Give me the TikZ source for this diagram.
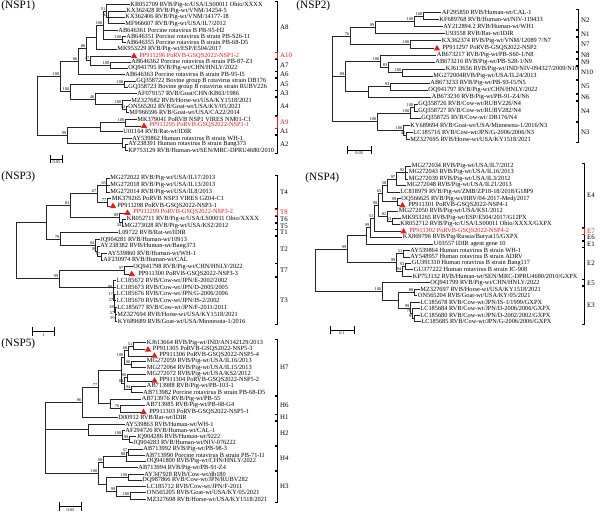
\documentclass[tikz,border=0pt]{standalone}
\usepackage{fontspec}
\setmainfont{Liberation Serif}
\usetikzlibrary{shapes.geometric}
\definecolor{pred}{RGB}{228,28,30}
\begin{document}
\begin{tikzpicture}[x=0.025cm, y=-0.025cm, line width=0.55pt,
    leaf/.style={anchor=west, inner sep=0.4pt, font=\fontsize{4.5}{5}\selectfont},
    newleaf/.style={leaf, text=pred},
    tri/.style={regular polygon, regular polygon sides=3, fill=pred, inner sep=0pt, minimum size=5.2pt, yshift=-0.5pt},
    br/.style={draw=black!85, to path={|- (\tikztotarget)}},
    bs/.style={font=\fontsize{3.1}{3.5}\selectfont, inner sep=0.3pt},
    gt/.style={anchor=west, inner sep=0.5pt, font=\fontsize{4.9}{5}\selectfont},
    panel/.style={anchor=west, inner sep=0pt, font=\fontsize{8}{9}\selectfont}]
  \useasboundingbox (0,0) rectangle (600,514);

  \node[panel] (p1) at (1,6) {(NSP1)};
  \node[leaf] (a1) at (129.5,4.7) {KR052709 RVB/Pig-tc/USA/LS00011 Ohio/XXXX};
  \node[leaf] (a2) at (125.5,11.1) {KX362428 RVB/Pig-wt/VNM/14254-5};
  \node[leaf] (a3) at (124.5,17.4) {KX362406 RVB/Pig-wt/VNM/14177-18};
  \node[leaf] (a4) at (124.5,23.8) {MF966607 RVB/Pig-wt/USA/IL7/2012};
  \node[leaf] (a5) at (117.5,30.1) {AB646361 Porcine rotavirus B PB-95-H2};
  \node[leaf] (a6) at (125.5,36.5) {AB646351 Porcine rotavirus B strain PB-S26-11};
  \node[leaf] (a7) at (125.5,42.8) {AB646355 Porcine rotavirus B strain PB-68-D5};
  \node[leaf] (a8) at (116.5,49.2) {MK953229 RVB/Pig-wt/ESP/E504/2017};
  \node[tri] (a9) at (134,55.5) {};
  \node[newleaf] (a9l) at (138.5,55.5) {PP911296 PoRVB-GSQS2022-NSP1-2};
  \node[leaf] (a10) at (130.5,61.9) {AB646362 Porcine rotavirus B strain PB-87-Z3};
  \node[leaf] (a11) at (127.5,68.2) {OQ941795 RVB/Pig-wt/CHN/HNLY/2022};
  \node[leaf] (a12) at (124.5,74.6) {AB646363 Porcine rotavirus B strain PB-95-I5};
  \node[leaf] (a13) at (135.5,80.9) {GQ358722 Bovine group B rotavirus strain DB176};
  \node[leaf] (a14) at (127.5,87.3) {GQ358723 Bovine group B rotavirus strain RUBV226};
  \node[leaf] (a15) at (136.5,93.6) {AF079157 RVB/Goat/CHN/KB63/1986};
  \node[leaf] (a16) at (130.5,100) {MZ327682 RVB/Horse-wt/USA/KY1518/2021};
  \node[leaf] (a17) at (127.5,106.3) {ON565202 RVB/Goat-wt/USA/KY/05/2021};
  \node[leaf] (a18) at (128.5,112.7) {MF966596 RVB/Goat-wt/USA/CA22/2014};
  \node[leaf] (a19) at (136.5,119) {MK379041 PoRVB NSP1 VIRES NM01-C1};
  \node[tri] (a20) at (144,125.4) {};
  \node[newleaf] (a20l) at (148.5,125.4) {PP911295 PoRVB-GSQS2022-NSP1-1};
  \node[leaf] (a21) at (122.5,131.7) {U01164 RVB/Rat-wt/IDIR};
  \node[leaf] (a22) at (131.5,138.1) {AY539862 Human rotavirus B strain WH-1};
  \node[leaf] (a23) at (127.5,144.4) {AY238391 Human rotavirus B strain Bang373};
  \node[leaf] (a24) at (127.5,150.8) {KP753129 RVB/Human-wt/SEN/MRC-DPRU4680/2010};
  \coordinate[label={[bs]above left:94}] (a-k2) at (108,17.4);
  \coordinate[label={[bs]above left:51}] (a-k1) at (106,11.1);
  \coordinate[label={[bs]above left:100}] (a-j1) at (122,39.7);
  \coordinate[label={[bs]above left:100}] (a-h1) at (103,25.4);
  \coordinate (a-e1) at (96,37.3);
  \coordinate[label={[bs]above left:100}] (a-g1) at (110,65.1);
  \coordinate[label={[bs]above left:47}] (a-f1) at (90,60.3);
  \coordinate[label={[bs]above left:88}] (a-d1) at (86,48.8);
  \coordinate[label={[bs]above left:86}] (a-b1) at (78,61.7);
  \coordinate[label={[bs]above left:100}] (a-l1) at (124,84.1);
  \coordinate[label={[bs]above left:92}] (a-n1) at (126,109.5);
  \coordinate[label={[bs]above left:100}] (a-m2) at (122,104.8);
  \coordinate[label={[bs]above left:46}] (a-m1) at (95,99.2);
  \coordinate[label={[bs]above left:100}] (a-c1) at (70,91.7);
  \coordinate[label={[bs]above left:100}] (a-a1) at (60,76.7);
  \coordinate[label={[bs]above left:100}] (a-o1) at (125,122.2);
  \coordinate (a-p1) at (100,127);
  \coordinate (a-r2) at (125,147.6);
  \coordinate (a-s2) at (122,142.9);
  \coordinate[label={[bs]above left:99}] (a-t1) at (67,135);
  \coordinate (a-r) at (37,105.9);
  \path (a-k2) edge[br] (a2) edge[br] (a3) edge[br] (a4);
  \path (a-k1) edge[br] (a1) edge[br] (a-k2);
  \path (a-j1) edge[br] (a6) edge[br] (a7);
  \path (a-h1) edge[br] (a-k1) edge[br] (a5) edge[br] (a-j1);
  \path (a-e1) edge[br] (a-h1) edge[br] (a8);
  \path (a-g1) edge[br] (a10) edge[br] (a11);
  \path (a-f1) edge[br] (a9) edge[br] (a-g1);
  \path (a-d1) edge[br] (a-e1) edge[br] (a-f1);
  \path (a-b1) edge[br] (a-d1) edge[br] (a12);
  \path (a-l1) edge[br] (a13) edge[br] (a14);
  \path (a-n1) edge[br] (a17) edge[br] (a18);
  \path (a-m2) edge[br] (a16) edge[br] (a-n1);
  \path (a-m1) edge[br] (a15) edge[br] (a-m2);
  \path (a-c1) edge[br] (a-l1) edge[br] (a-m1);
  \path (a-a1) edge[br] (a-b1) edge[br] (a-c1);
  \path (a-o1) edge[br] (a19) edge[br] (a20);
  \path (a-p1) edge[br] (a-o1) edge[br] (a21);
  \path (a-r2) edge[br] (a23) edge[br] (a24);
  \path (a-s2) edge[br] (a22) edge[br] (a-r2);
  \path (a-t1) edge[br] (a-p1) edge[br] (a-s2);
  \path (a-r) edge[br] (a-a1) edge[br] (a-t1);
  \foreach \ya/\yb/\g in {4.7/49.2/A8, 61.9/68.2/A7, 74.6/74.6/A6, 80.9/87.3/A5, 93.6/93.6/A3, 100/112.7/A4, 131.7/131.7/A1, 138.1/150.8/A2}{
    \draw (275,\ya-3) -- (277,\ya-3) -- (277,\yb+3) -- (275,\yb+3);
    \node[gt] (g\g) at (279,{(\ya+\yb)/2}) {\g};
  }
  \draw[pred] (275,52.5) -- (277,52.5) -- (277,58.5) -- (275,58.5);
  \node[gt, text=pred] (gA10) at (279,55.5) {A10};
  \draw[pred] (275,116) -- (277,116) -- (277,128.4) -- (275,128.4);
  \node[gt, text=pred] (gA9) at (279,122.2) {A9};
  \draw[|-|] (50,159) -- node[bs, below=0.6pt] (s1) {0.05} (63,159);

  \node[panel] (p2) at (296,6) {(NSP2)};
  \node[leaf] (b1) at (441,12.7) {AF295850 RVB/Human-wt/CAL-1};
  \node[leaf] (b2) at (438.5,19.7) {KF689768 RVB/Human-wt/NIV-119433};
  \node[leaf] (b3) at (442.5,26.8) {AY212894.2 RVB/Human-wt/WH1};
  \node[leaf] (b4) at (444.5,33.8) {U93558 RVB/Rat-wt/IDIR};
  \node[leaf] (b5) at (441,40.8) {KX362374 RVB/Pig-wt/VNM/12089 7/N7};
  \node[tri] (b6) at (437,47.9) {};
  \node[leaf] (b6l) at (441.5,47.9) {PP911297 PoRVB-GSQS2022-NSP2};
  \node[leaf] (b7) at (436,54.9) {AB673217 RVB/Pig-wt/PB-S60-1/N8};
  \node[leaf] (b8) at (434.5,61.9) {AB673216 RVB/Pig-wt/PB-S28-1/N9};
  \node[leaf] (b9) at (445,68.9) {KJ613656 RVB/Pig-wt/IND/NIV-094327/2009/N10};
  \node[leaf] (b10) at (432.5,76) {MG272004RVB/Pig-wt/USA/IL24/2013};
  \node[leaf] (b11) at (429.5,83) {AB673233 RVB/Pig-wt/PB-93-I5/N5};
  \node[leaf] (b12) at (427.5,90) {OQ941797 RVB/Pig-wt/CHN/HNLY/2022};
  \node[leaf] (b13) at (431,97.1) {AB673230 RVB/Pig-wt/PB-91-Z4/N6};
  \node[leaf] (b14) at (417.5,104.1) {GQ358726 RVB/Cow-wt/RUBV226/N4};
  \node[leaf] (b15) at (417.5,111.1) {GQ358727 RVB/Cow-wt/RUBV282/N4};
  \node[leaf] (b16) at (420.5,118.2) {GQ358725 RVB/Cow-wt/ DB176/N4};
  \node[leaf] (b17) at (409.5,125.2) {KY689694 RVB/Goat-wt/USA/Minnesota-1/2016/N3};
  \node[leaf] (b18) at (412.5,132.2) {LC185716 RVB/Cow-wt/JPN/G-2006/2006/N3};
  \node[leaf] (b19) at (409.5,139.2) {MZ327695 RVB/Horse-wt/USA/KY1518/2021};
  \coordinate[label={[bs]above left:100}] (b-a1) at (423,16.2);
  \coordinate[label={[bs]above left:100}] (b-a2) at (414,21.5);
  \coordinate[label={[bs]above left:99}] (b-a3) at (375,27.7);
  \coordinate[label={[bs]above left:100}] (b-a5) at (410,44.4);
  \coordinate[label={[bs]above left:76}] (b-a4) at (350,36);
  \coordinate[label={[bs]above left:100}] (b-b3) at (402,72.5);
  \coordinate[label={[bs]above left:83}] (b-b2) at (388,67.2);
  \coordinate[label={[bs]above left:100}] (b-b1) at (380,61);
  \coordinate[label={[bs]above left:93}] (b-b4) at (390,86.5);
  \coordinate (b-b5) at (368,91.8);
  \coordinate[label={[bs]above left:89}] (b-b6) at (345,76.4);
  \coordinate[label={[bs]above left:100}] (b-c1) at (414,107.6);
  \coordinate[label={[bs]above left:100}] (b-c2) at (410,112.9);
  \coordinate[label={[bs]above left:46}] (b-c5) at (406,135.7);
  \coordinate[label={[bs]above left:100}] (b-c4) at (403,130.5);
  \coordinate[label={[bs]above left:100}] (b-c3) at (377,121.7);
  \coordinate (b-r) at (332,78.9);
  \path (b-a1) edge[br] (b1) edge[br] (b2);
  \path (b-a2) edge[br] (b-a1) edge[br] (b3);
  \path (b-a3) edge[br] (b-a2) edge[br] (b4);
  \path (b-a5) edge[br] (b5) edge[br] (b6);
  \path (b-a4) edge[br] (b-a3) edge[br] (b-a5);
  \path (b-b3) edge[br] (b9) edge[br] (b10);
  \path (b-b2) edge[br] (b8) edge[br] (b-b3);
  \path (b-b1) edge[br] (b7) edge[br] (b-b2);
  \path (b-b4) edge[br] (b11) edge[br] (b12);
  \path (b-b5) edge[br] (b-b4) edge[br] (b13);
  \path (b-b6) edge[br] (b-b1) edge[br] (b-b5);
  \path (b-c1) edge[br] (b14) edge[br] (b15);
  \path (b-c2) edge[br] (b-c1) edge[br] (b16);
  \path (b-c5) edge[br] (b18) edge[br] (b19);
  \path (b-c4) edge[br] (b17) edge[br] (b-c5);
  \path (b-c3) edge[br] (b-c2) edge[br] (b-c4);
  \path (b-r) edge[br] (b-a4) edge[br] (b-b6) edge[br] (b-c3);
  \foreach \ya/\yb/\g in {12.7/26.8/N2, 33.8/33.8/N1, 40.8/47.9/N7, 54.9/54.9/N8, 61.9/61.9/N9, 68.9/76/N10, 83/90/N5, 97.1/97.1/N6, 104.1/118.2/N4, 125.2/139.2/N3}{
    \draw (576,\ya-3) -- (578,\ya-3) -- (578,\yb+3) -- (576,\yb+3);
    \node[gt] (g\g) at (580,{(\ya+\yb)/2}) {\g};
  }
  \draw[|-|] (346.7,150) -- node[bs, below=0.6pt] (s2) {0.05} (371.7,150);

  \node[panel] (p3) at (1,177) {(NSP3)};
  \node[leaf] (c1) at (109.5,178.3) {MG272022 RVB/Pig-wt/USA/IL17/2013};
  \node[leaf] (c2) at (109.5,185.1) {MG272018 RVB/Pig-wt/USA/IL13/2013};
  \node[leaf] (c3) at (109.5,191.9) {MG272014 RVB/Pig-wt/USA/IL8/2013};
  \node[leaf] (c4) at (111,198.7) {MK379265 PoRVB NSP3 VIRES GZ04-C1};
  \node[tri] (c5) at (113,205.5) {};
  \node[leaf] (c5l) at (116.5,205.5) {PP911298 PoRVB-GSQS2022-NSP3-1};
  \node[tri] (c6) at (127.5,212.3) {};
  \node[newleaf] (c6l) at (132.5,212.3) {PP911299 PoRVB-GSQS2022-NSP3-2};
  \node[leaf] (c7) at (126,219.1) {KR052711 RVB/Pig-tc/USA/LS00011 Ohio/XXXX};
  \node[leaf] (c8) at (123.5,225.9) {MG273028 RVB/Pig-wt/USA/KS2/2012};
  \node[leaf] (c9) at (117.5,232.7) {L09722 RVB/Rat-wt/IDIR};
  \node[leaf] (c10) at (99.5,239.5) {JQ904281 RVB/Human-wt/10913};
  \node[leaf] (c11) at (99.5,246.3) {AY238382 RVB/Human-wt/Bang373};
  \node[leaf] (c12) at (107,253.1) {AY539860 RVB/Human-wt/WH-1};
  \node[leaf] (c13) at (102.5,259.9) {AF230974 RVB/Human-wt/CAL};
  \node[leaf] (c14) at (132.5,266.7) {OQ941798 RVB/Pig-wt/CHN/HNLY/2022};
  \node[tri] (c15) at (131.7,273.5) {};
  \node[leaf] (c15l) at (137.5,273.5) {PP911300 PoRVB-GSQS2022-NSP3-3};
  \node[leaf] (c16) at (116,280.3) {LC185672 RVB/Cow-wt/JPN/E-2002/2002};
  \node[leaf] (c17) at (116,287.1) {LC185673 RVB/Cow-wt/JPN/D-2005/2005};
  \node[leaf] (c18) at (116,293.9) {LC185676 RVB/Cow-wt/JPN/G-2006/2006};
  \node[leaf] (c19) at (116,300.7) {LC185670 RVB/Cow-wt/JPN/IS-2/2002};
  \node[leaf] (c20) at (116.5,307.5) {LC185677 RVB/Cow-wt/JPN/F-2011/2011};
  \node[leaf] (c21) at (116.5,314.3) {MZ327694 RVB/Horse-wt/USA/KY1518/2021};
  \node[leaf] (c22) at (117,321.1) {KY689689 RVB/Goat-wt/USA/Minnesota-1/2016};
  \coordinate[label={[bs]above left:65}] (c-a) at (106.7,185.1);
  \coordinate[label={[bs]above left:77}] (c-c) at (107,202.1);
  \coordinate[label={[bs]above left:67}] (c-b) at (97,193.6);
  \coordinate[label={[bs]below left:34}] (c-e2) at (122,222.5);
  \coordinate[label={[bs]above left:89}] (c-e) at (119,217.4);
  \coordinate[label={[bs]above left:81}] (c-d) at (70,205.5);
  \coordinate[label={[bs]above left:97}] (c-h1) at (101,256.5);
  \coordinate[label={[bs]above left:98}] (c-h2) at (97,251.4);
  \coordinate[label={[bs]above left:94}] (c-h3) at (95,245.5);
  \coordinate[label={[bs]above left:79}] (c-g) at (60,239.1);
  \coordinate (c-f) at (46.7,222.3);
  \coordinate[label={[bs]above left:97}] (c-u) at (124,270.1);
  \coordinate[label={[bs]left:95}] (c-v6) at (115.5,317.7);
  \coordinate[label={[bs]left:57}] (c-v5) at (115,312.6);
  \coordinate[label={[bs]left:38}] (c-v4) at (114.5,306.7);
  \coordinate[label={[bs]left:27}] (c-v3) at (114,300.3);
  \coordinate[label={[bs]left:17}] (c-v2) at (113.5,293.7);
  \coordinate[label={[bs]left:98}] (c-v1) at (113,287);
  \coordinate[label={[bs]above left:99}] (c-t) at (59,278.6);
  \coordinate (c-r) at (16.7,250.5);
  \path (c-a) edge[br] (c1) edge[br] (c2) edge[br] (c3);
  \path (c-c) edge[br] (c4) edge[br] (c5);
  \path (c-b) edge[br] (c-a) edge[br] (c-c);
  \path (c-e2) edge[br] (c7) edge[br] (c8);
  \path (c-e) edge[br] (c6) edge[br] (c-e2);
  \path (c-d) edge[br] (c-b) edge[br] (c-e);
  \path (c-h1) edge[br] (c12) edge[br] (c13);
  \path (c-h2) edge[br] (c11) edge[br] (c-h1);
  \path (c-h3) edge[br] (c10) edge[br] (c-h2);
  \path (c-g) edge[br] (c9) edge[br] (c-h3);
  \path (c-f) edge[br] (c-d) edge[br] (c-g);
  \path (c-u) edge[br] (c14) edge[br] (c15);
  \path (c-v6) edge[br] (c21) edge[br] (c22);
  \path (c-v5) edge[br] (c20) edge[br] (c-v6);
  \path (c-v4) edge[br] (c19) edge[br] (c-v5);
  \path (c-v3) edge[br] (c18) edge[br] (c-v4);
  \path (c-v2) edge[br] (c17) edge[br] (c-v3);
  \path (c-v1) edge[br] (c16) edge[br] (c-v2);
  \path (c-t) edge[br] (c-u) edge[br] (c-v1);
  \path (c-r) edge[br] (c-f) edge[br] (c-t);
  \foreach \ya/\yb/\g in {178.3/205.5/T4, 219.1/219.1/T6, 225.9/225.9/T5, 232.7/232.7/T1, 239.5/259.9/T2, 266.7/273.5/T7, 280.3/321.1/T3}{
    \draw (275,\ya-3) -- (277,\ya-3) -- (277,\yb+3) -- (275,\yb+3);
    \node[gt] (g\g) at (279,{(\ya+\yb)/2}) {\g};
  }
  \draw[pred] (275,209.3) -- (277,209.3) -- (277,215.3) -- (275,215.3);
  \node[gt, text=pred] (gT8) at (279,212.3) {T8};
  \draw[|-|] (31.7,331.7) -- node[bs, below=0.6pt] (s3) {1} (55,331.7);

  \node[panel] (p4) at (305,178) {(NSP4)};
  \node[leaf] (d1) at (411,166) {MG272034 RVB/Pig-wt/USA/IL7/2012};
  \node[leaf] (d2) at (408,172.5) {MG272043 RVB/Pig-wt/USA/IL16/2013};
  \node[leaf] (d3) at (408,179) {MG272039 RVB/Pig-wt/USA/IL3/2012};
  \node[leaf] (d4) at (406,185.5) {MG272048 RVB/Pig-wt/USA/IL21/2013};
  \node[leaf] (d5) at (399.5,192) {LC818979 RVB/Pig-wt/ZMB/ZP18-18/2018/G18P9};
  \node[leaf] (d6) at (400.5,198.5) {OQ566625 RVB/Pig-wt/HRV/04-2017-Medj/2017};
  \node[tri] (d7) at (402.5,204.9) {};
  \node[leaf] (d7l) at (407.5,204.9) {PP911301 PoRVB-GSQS2022-NSP4-1};
  \node[leaf] (d8) at (398,211.4) {MG272050 RVB/Pig-wt/USA/KS1/2012};
  \node[leaf] (d9) at (401,217.9) {MK953265 RVB/Pig-wt/ESP/E504/2017/G12PX};
  \node[leaf] (d10) at (399.5,224.4) {KR052712 RVB/Pig-tc/USA/LS00011 Ohio/XXXX/GXPX};
  \node[tri] (d11) at (403.5,230.9) {};
  \node[newleaf] (d11l) at (408.5,230.9) {PP911302 PoRVB-GSQS2022-NSP4-2};
  \node[leaf] (d12) at (402,237.4) {KX869796 RVB/Pig/Russia/Buryat15/GXPX};
  \node[leaf] (d13) at (433,243.9) {U03557 IDIR agent gene 10};
  \node[leaf] (d14) at (409.5,250.4) {AY539864 Human rotavirus B strain WH-1};
  \node[leaf] (d15) at (409.5,256.9) {AY548957 Human rotavirus B strain ADRV};
  \node[leaf] (d16) at (411,263.4) {GU391310 Human rotavirus B strain Bang117};
  \node[leaf] (d17) at (413,269.8) {GU377222 Human rotavirus B strain IC-908};
  \node[leaf] (d18) at (412,276.3) {KP753132 RVB/Human-wt/SEN/MRC-DPRU4680/2010/GXPX};
  \node[leaf] (d19) at (429.5,282.8) {OQ941799 RVB/Pig-wt/CHN/HNLY/2022};
  \node[leaf] (d20) at (419.5,289.3) {MZ327697 RVB/Horse-wt/USA/KY1518/2021};
  \node[leaf] (d21) at (417,295.8) {ON565204 RVB/Goat-wt/USA/KY/05/2021};
  \node[leaf] (d22) at (419.5,302.3) {LC185678 RVB/Cow-wt/JPN/IS-1/1999/GXPX};
  \node[leaf] (d23) at (419.5,308.8) {LC185684 RVB/Cow-wt/JPN/D-2006/2006/GXPX};
  \node[leaf] (d24) at (419.5,315.3) {LC185680 RVB/Cow-wt/JPN/D-2002/2002/GXPX};
  \node[leaf] (d25) at (420.5,321.8) {LC185685 RVB/Cow-wt/JPN/G-2006/2006/GXPX};
  \coordinate[label={[bs]above left:92}] (d-n1) at (405,172.5);
  \coordinate[label={[bs]above left:97}] (d-n2) at (396,179);
  \coordinate[label={[bs]above left:58}] (d-n3) at (387,185.5);
  \coordinate[label={[bs]above left:99}] (d-n5) at (397,201.7);
  \coordinate[label={[bs]above left:65}] (d-n6) at (382,193.6);
  \coordinate[label={[bs]above left:63}] (d-n9) at (392,221.2);
  \coordinate[label={[bs]above left:82}] (d-n8) at (387,216.3);
  \coordinate[label={[bs]above left:98}] (d-n10) at (378,205);
  \coordinate[label={[bs]above left:51}] (d-n11) at (374,218);
  \coordinate[label={[bs]above left:99}] (d-n12) at (370,227.7);
  \coordinate (d-p1) at (366.7,235.8);
  \coordinate[label={[bs]above left:51}] (d-h1) at (403,253.7);
  \coordinate[label={[bs]above left:93}] (d-h3) at (405,266.6);
  \coordinate[label={[bs]above left:94}] (d-h5) at (402,271.5);
  \coordinate[label={[bs]above left:99}] (d-g1) at (396,262.6);
  \coordinate[label={[bs]above left:99}] (d-p2) at (347,249.2);
  \coordinate[label={[bs]above left:88}] (d-q3) at (414,292.6);
  \coordinate[label={[bs]above left:95}] (d-q6) at (414,318.6);
  \coordinate[label={[bs]above left:70}] (d-q5) at (412,313.7);
  \coordinate[label={[bs]above left:99}] (d-q4) at (410,308);
  \coordinate (d-q2) at (398,300.3);
  \coordinate[label={[bs]above left:100}] (d-q) at (382,291.6);
  \coordinate (d-r) at (315,270.4);
  \path (d-n1) edge[br] (d1) edge[br] (d2) edge[br] (d3);
  \path (d-n2) edge[br] (d-n1) edge[br] (d4);
  \path (d-n3) edge[br] (d-n2) edge[br] (d5);
  \path (d-n5) edge[br] (d6) edge[br] (d7);
  \path (d-n6) edge[br] (d-n3) edge[br] (d-n5);
  \path (d-n9) edge[br] (d9) edge[br] (d10);
  \path (d-n8) edge[br] (d8) edge[br] (d-n9);
  \path (d-n10) edge[br] (d-n6) edge[br] (d-n8);
  \path (d-n11) edge[br] (d-n10) edge[br] (d11);
  \path (d-n12) edge[br] (d-n11) edge[br] (d12);
  \path (d-p1) edge[br] (d-n12) edge[br] (d13);
  \path (d-h1) edge[br] (d14) edge[br] (d15);
  \path (d-h3) edge[br] (d16) edge[br] (d17);
  \path (d-h5) edge[br] (d-h3) edge[br] (d18);
  \path (d-g1) edge[br] (d-h1) edge[br] (d-h5);
  \path (d-p2) edge[br] (d-p1) edge[br] (d-g1);
  \path (d-q3) edge[br] (d20) edge[br] (d21);
  \path (d-q6) edge[br] (d24) edge[br] (d25);
  \path (d-q5) edge[br] (d23) edge[br] (d-q6);
  \path (d-q4) edge[br] (d22) edge[br] (d-q5);
  \path (d-q2) edge[br] (d-q3) edge[br] (d-q4);
  \path (d-q) edge[br] (d19) edge[br] (d-q2);
  \path (d-r) edge[br] (d-p2) edge[br] (d-q);
  \foreach \ya/\yb/\g in {166/224.4/E4, 237.4/237.4/E6, 243.9/243.9/E1, 250.4/276.3/E2, 282.8/282.8/E5, 289.3/321.8/E3}{
    \draw (582,\ya-3) -- (584,\ya-3) -- (584,\yb+3) -- (582,\yb+3);
    \node[gt] (g\g) at (586,{(\ya+\yb)/2}) {\g};
  }
  \draw[pred] (582,227.9) -- (584,227.9) -- (584,233.9) -- (582,233.9);
  \node[gt, text=pred] (gE7) at (586,230.9) {E7};
  \draw[|-|] (330,330) -- node[bs, below=0.6pt] (s4) {0.1} (354.3,330);

  \node[panel] (p5) at (1,344) {(NSP5)};
  \node[leaf] (e1) at (146,342.7) {KJ613664 RVB/Pig-wt/IND/AN142129/2013};
  \node[tri] (e2) at (148,349) {};
  \node[leaf] (e2l) at (152,349) {PP911305 PoRVB-GSQS2022-NSP5-3};
  \node[tri] (e3) at (154.5,355.2) {};
  \node[leaf] (e3l) at (158.5,355.2) {PP911306 PoRVB-GSQS2022-NSP5-4};
  \node[leaf] (e4) at (146,361.5) {MG272059 RVB/Pig-wt/USA/IL16/2013};
  \node[leaf] (e5) at (146,367.7) {MG272064 RVB/Pig-wt/USA/IL15/2013};
  \node[leaf] (e6) at (146,374) {MG272072 RVB/Pig-wt/USA/KS2/2012};
  \node[tri] (e7) at (154.5,380.2) {};
  \node[leaf] (e7l) at (158.5,380.2) {PP911304 PoRVB-GSQS2022-NSP5-2};
  \node[leaf] (e8) at (146,386.5) {AB713988 RVB/Pig-wt/PB-103-1};
  \node[leaf] (e9) at (142.5,392.7) {AB713982 Porcine rotavirus B strain PB-68-D5};
  \node[leaf] (e10) at (141,399) {AB713976 RVB/Pig-wt/PB-55};
  \node[leaf] (e11) at (145,405.2) {AB713985 RVB/Pig-wt/PB-68-G4};
  \node[tri] (e12) at (143.5,411.5) {};
  \node[leaf] (e12l) at (148.5,411.5) {PP911303 PoRVB-GSQS2022-NSP5-1};
  \node[leaf] (e13) at (117.5,417.7) {D00912 RVB/Rat-wt/IDIR};
  \node[leaf] (e14) at (124.5,424) {AY539863 RVB/Human-wt/WH-1};
  \node[leaf] (e15) at (124.5,430.2) {AF294726 RVB/Human-wt/CAL-1};
  \node[leaf] (e16) at (136,436.5) {JQ904286 RVB/Human-wt/9222};
  \node[leaf] (e17) at (132.5,442.7) {JQ904283 RVB/Human-wt/NIV-076222};
  \node[leaf] (e18) at (142.5,449) {AB713992 RVB/Pig-wt/PB-98-3};
  \node[leaf] (e19) at (144.5,455.2) {AB713990 Porcine rotavirus B strain PB-71-I1};
  \node[leaf] (e20) at (146,461.5) {OQ941800 RVB/Pig-wt/CHN/HNLY/2022};
  \node[leaf] (e21) at (137.5,467.7) {AB713994 RVB/Pig-wt/PB-91-Z4};
  \node[leaf] (e22) at (143.5,474) {AY347928 RVB/Cow-wt/db180};
  \node[leaf] (e23) at (141.5,480.2) {DQ987866 RVB/Cow-wt/JPN/RUBV282};
  \node[leaf] (e24) at (146,486.5) {LC185712 RVB/Cow-wt/JPN/F-2011};
  \node[leaf] (e25) at (146,492.7) {ON565205 RVB/Goat-wt/USA/KY/05/2021};
  \node[leaf] (e26) at (146,499) {MZ327698 RVB/Horse-wt/USA/KY1518/2021};
  \coordinate[label={[bs]above left:51}] (e-a) at (133,345.9);
  \coordinate[label={[bs]above left:68}] (e-b) at (128,350.6);
  \coordinate[label={[bs]above left:100}] (e-c) at (131,364.6);
  \coordinate[label={[bs]above left:100}] (e-d) at (124,357.6);
  \coordinate[label={[bs]above left:96}] (e-e) at (127,377.1);
  \coordinate[label={[bs]above left:94}] (e-f) at (131,389.6);
  \coordinate[label={[bs]above left:84}] (e-g) at (124,383.4);
  \coordinate (e-h) at (121,370.5);
  \coordinate[label={[bs]above left:76}] (e-j2) at (120,408.4);
  \coordinate (e-j) at (110,403.7);
  \coordinate[label={[bs]above left:77}] (e-i) at (98,387.1);
  \coordinate[label={[bs]above left:96}] (e-k) at (82,402.4);
  \coordinate[label={[bs]above left:99}] (e-m1) at (129,439.6);
  \coordinate[label={[bs]above left:100}] (e-m2) at (122,434.9);
  \coordinate (e-m3) at (88,429.5);
  \coordinate[label={[bs]above left:57}] (e-o3) at (128,452.1);
  \coordinate[label={[bs]above left:88}] (e-o2) at (126,456.8);
  \coordinate[label={[bs]above left:98}] (e-o1) at (103,462.3);
  \coordinate[label={[bs]above left:100}] (e-p3) at (128,477.1);
  \coordinate[label={[bs]above left:100}] (e-p4) at (130,495.9);
  \coordinate[label={[bs]above left:99}] (e-p5) at (116,491.2);
  \coordinate (e-p1) at (106,484.2);
  \coordinate[label={[bs]above left:100}] (e-n1) at (98,473.3);
  \coordinate (e-r) at (45,429.5);
  \path (e-a) edge[br] (e1) edge[br] (e2);
  \path (e-b) edge[br] (e-a) edge[br] (e3);
  \path (e-c) edge[br] (e4) edge[br] (e5);
  \path (e-d) edge[br] (e-b) edge[br] (e-c);
  \path (e-e) edge[br] (e6) edge[br] (e7);
  \path (e-f) edge[br] (e8) edge[br] (e9);
  \path (e-g) edge[br] (e-e) edge[br] (e-f);
  \path (e-h) edge[br] (e-d) edge[br] (e-g);
  \path (e-j2) edge[br] (e11) edge[br] (e12);
  \path (e-j) edge[br] (e10) edge[br] (e-j2);
  \path (e-i) edge[br] (e-h) edge[br] (e-j);
  \path (e-k) edge[br] (e-i) edge[br] (e13);
  \path (e-m1) edge[br] (e16) edge[br] (e17);
  \path (e-m2) edge[br] (e15) edge[br] (e-m1);
  \path (e-m3) edge[br] (e14) edge[br] (e-m2);
  \path (e-o3) edge[br] (e18) edge[br] (e19);
  \path (e-o2) edge[br] (e-o3) edge[br] (e20);
  \path (e-o1) edge[br] (e-o2) edge[br] (e21);
  \path (e-p3) edge[br] (e22) edge[br] (e23);
  \path (e-p4) edge[br] (e25) edge[br] (e26);
  \path (e-p5) edge[br] (e24) edge[br] (e-p4);
  \path (e-p1) edge[br] (e-p3) edge[br] (e-p5);
  \path (e-n1) edge[br] (e-o1) edge[br] (e-p1);
  \path (e-r) edge[br] (e-k) edge[br] (e-m3) edge[br] (e-n1);
  \foreach \ya/\yb/\g in {342.7/392.7/H7, 399/411.5/H6, 417.7/417.7/H1, 424/442.7/H2, 449/467.7/H4, 474/499/H3}{
    \draw (275,\ya-3) -- (277,\ya-3) -- (277,\yb+3) -- (275,\yb+3);
    \node[gt] (g\g) at (279,{(\ya+\yb)/2}) {\g};
  }
  \draw[|-|] (59.3,506.7) -- node[bs, below=0.6pt] (s5) {0.05} (81.7,506.7);
\end{tikzpicture}
\end{document}
